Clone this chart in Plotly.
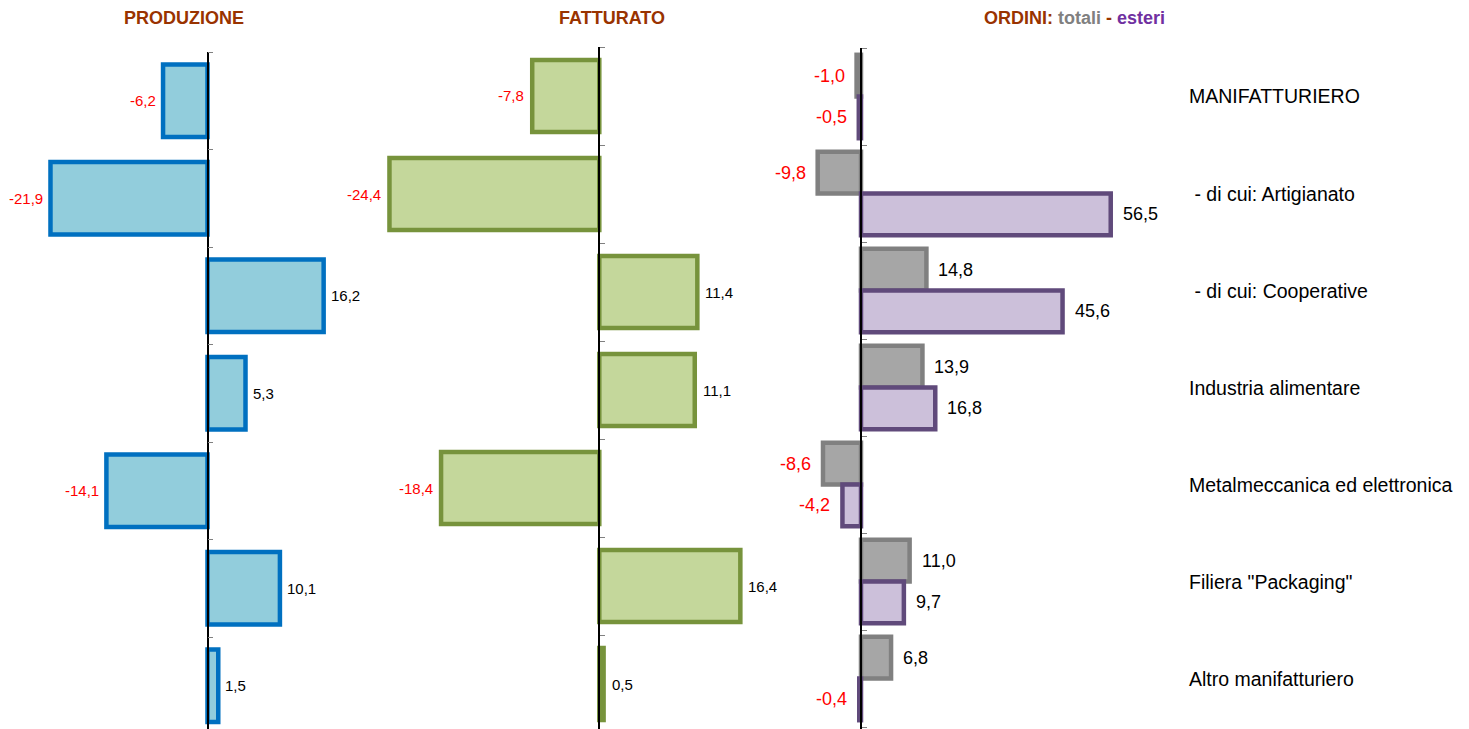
import plotly.graph_objects as go

categories = ["MANIFATTURIERO", "\u00a0- di cui: Artigianato", "\u00a0- di cui: Cooperative",
              "Industria alimentare", "Metalmeccanica ed elettronica",
              "Filiera \"Packaging\"", "Altro manifatturiero"]
produzione = [-6.2, -21.9, 16.2, 5.3, -14.1, 10.1, 1.5]
fatturato = [-7.8, -24.4, 11.4, 11.1, -18.4, 16.4, 0.5]
ordini_totali = [-1.0, -9.8, 14.8, 13.9, -8.6, 11.0, 6.8]
ordini_esteri = [-0.5, 56.5, 45.6, 16.8, -4.2, 9.7, -0.4]

# the page puts the figure 8px from the top-left corner of the window
OFF = 8
WIN_W, WIN_H = 1469, 729
W, H = WIN_W - OFF, WIN_H - OFF
idx = list(range(len(categories)))

def px_x(p):
    return (p - OFF) / W

def px_y(p):
    return 1 - (p - OFF) / H

def fmt(v):
    return f"{v:.1f}".replace(".", ",")

# panel geometry in window pixels: domain left/right, zero position, px per unit, top, category step
panels = {
    1: dict(d=(8, 380), zero=207.5, scale=7.17, top=52, step=97.5),
    2: dict(d=(380, 770), zero=599.3, scale=8.6, top=47, step=98.0),
    3: dict(d=(770, 1180), zero=861.0, scale=4.42, top=48, step=97.0),
}

fig = go.Figure()

fig.add_trace(go.Bar(y=idx, x=produzione, orientation="h", xaxis="x", yaxis="y",
                     width=0.745, marker=dict(color="#92CDDC", line=dict(color="#0070C0", width=4.5))))
fig.add_trace(go.Bar(y=idx, x=fatturato, orientation="h", xaxis="x2", yaxis="y2",
                     width=0.735, marker=dict(color="#C4D79B", line=dict(color="#77933C", width=4.5))))
fig.add_trace(go.Bar(y=idx, x=ordini_totali, orientation="h", xaxis="x3", yaxis="y3",
                     width=0.43, offset=-0.43,
                     marker=dict(color="#A6A6A6", line=dict(color="#808080", width=4.5))))
fig.add_trace(go.Bar(y=idx, x=ordini_esteri, orientation="h", xaxis="x3", yaxis="y3",
                     width=0.43, offset=0.0,
                     marker=dict(color="#CCC0DA", line=dict(color="#604A7B", width=4.5))))

layout = dict(width=W, height=H, margin=dict(l=0, r=0, t=0, b=0),
              paper_bgcolor="white", plot_bgcolor="rgba(0,0,0,0)",
              showlegend=False, barmode="overlay",
              font=dict(family="Liberation Sans, Arial, sans-serif", color="black"))

annotations = []
for k, p in panels.items():
    d0, d1 = p["d"]
    r0 = -(p["zero"] - d0) / p["scale"]
    r1 = (d1 - p["zero"]) / p["scale"]
    xd = [px_x(d0), px_x(d1)]
    ytop = px_y(p["top"])
    bottom_px = p["top"] + 7 * p["step"]
    ybot = 6.5 - (bottom_px - WIN_H) / p["step"]
    sfx = "" if k == 1 else str(k)
    layout["xaxis" + sfx] = dict(domain=xd, range=[r0, r1], visible=False, fixedrange=True,
                                 **({} if k == 1 else dict(anchor="y" + sfx)))
    pos = xd[0] + (0 - r0) / (r1 - r0) * (xd[1] - xd[0])
    layout["yaxis" + sfx] = dict(domain=[0, ytop], range=[ybot, -0.5], anchor="free",
                                 position=pos, side="right", showline=True, linecolor="black",
                                 linewidth=1.5, ticks="outside", ticklen=5, tickcolor="#808080",
                                 tickwidth=1, tickmode="array",
                                 tickvals=[i - 0.5 for i in range(8)], showticklabels=False,
                                 showgrid=False, zeroline=False, layer="above traces")

sans = "Liberation Sans, Arial, sans-serif"

def add_labels(values, xref, yref, offs, shift, size):
    for i, v in enumerate(values):
        annotations.append(dict(
            x=v, y=i + offs, xref=xref, yref=yref, text=fmt(v), showarrow=False,
            xanchor="left" if v >= 0 else "right", yanchor="middle",
            xshift=shift if v >= 0 else -shift, borderpad=0,
            font=dict(family=sans, size=size, color="black" if v >= 0 else "#FF0000")))

add_labels(produzione, "x", "y", 0, 6, 15)
add_labels(fatturato, "x2", "y2", 0, 7, 15)
add_labels(ordini_totali, "x3", "y3", -0.215, 11, 18)
add_labels(ordini_esteri, "x3", "y3", 0.215, 11, 18)

for i, c in enumerate(categories):
    annotations.append(dict(x=px_x(1187), y=i, xref="paper", yref="y3", text=c, showarrow=False,
                            xanchor="left", yanchor="middle",
                            font=dict(family=sans, size=19.5, color="black")))

title_font = dict(family=sans, size=18, color="#993300")
annotations.append(dict(x=px_x(184), y=px_y(18), xref="paper", yref="paper", text="<b>PRODUZIONE</b>",
                        showarrow=False, xanchor="center", yanchor="middle", font=title_font))
annotations.append(dict(x=px_x(612), y=px_y(18), xref="paper", yref="paper", text="<b>FATTURATO</b>",
                        showarrow=False, xanchor="center", yanchor="middle", font=title_font))
annotations.append(dict(x=px_x(1074.5), y=px_y(18), xref="paper", yref="paper",
                        text="<b>ORDINI: <span style='color:#808080'>totali</span> - "
                             "<span style='color:#7030A0'>esteri</span></b>",
                        showarrow=False, xanchor="center", yanchor="middle", font=title_font))

layout["annotations"] = annotations
fig.update_layout(**layout)
fig.write_html("out.html")
